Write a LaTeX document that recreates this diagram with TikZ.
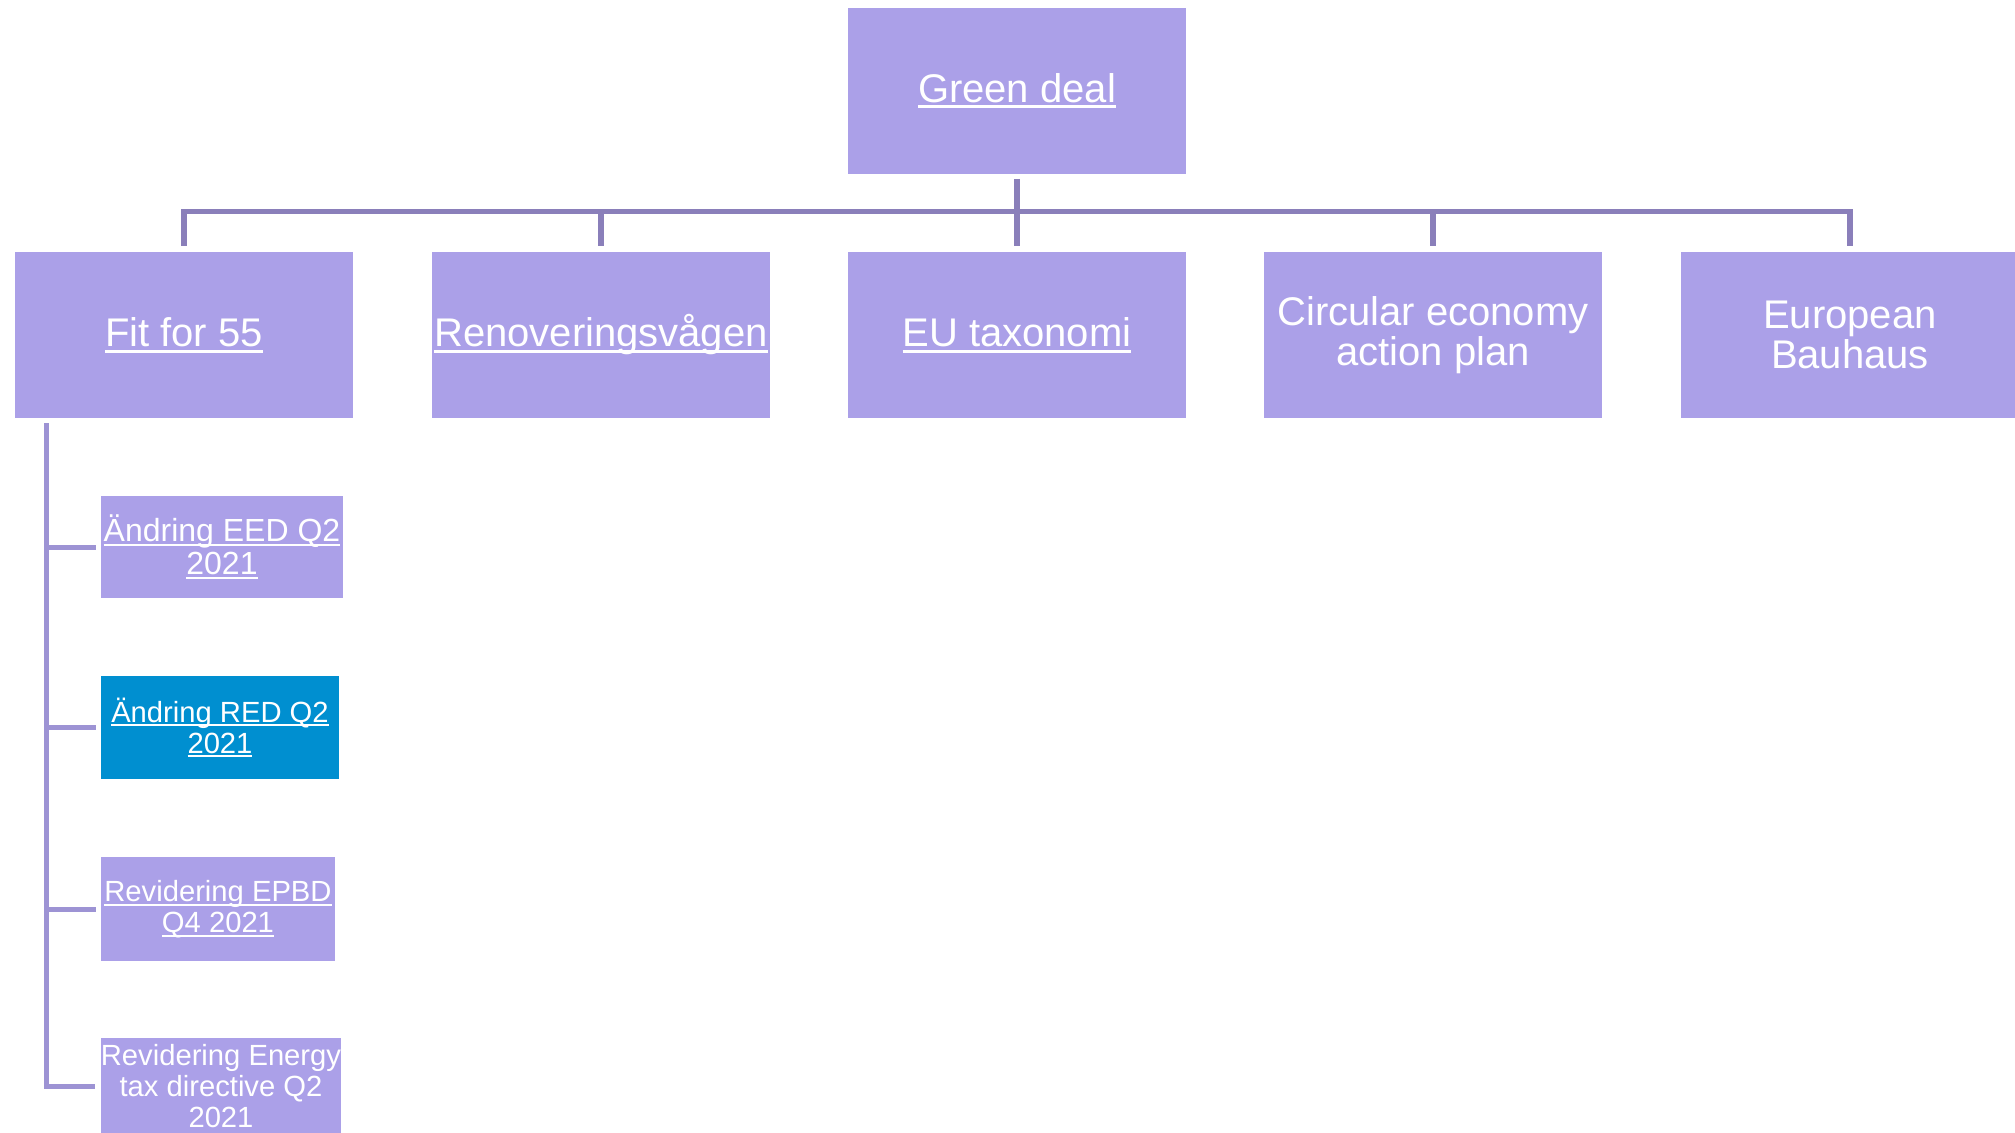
\documentclass[tikz,border=0pt]{standalone}
\usepackage{fontspec}
\setmainfont{Liberation Sans}
\usetikzlibrary{calc}
\definecolor{boxfill}{HTML}{ABA0E8}
\definecolor{bluefill}{HTML}{008FD0}
\definecolor{linedark}{HTML}{8A7FBA}
\definecolor{linelight}{HTML}{9D93D4}
\newcommand\ulin[1]{\setbox0\hbox{#1}\rlap{\rule[-0.15em]{\wd0}{0.07em}}\box0}
\begin{document}
\begin{tikzpicture}[x=0.5pt,y=-0.5pt,
  box/.style={fill=boxfill, draw=none, text=white, align=center, inner sep=0pt,
    minimum width=169pt, minimum height=83pt, font=\fontsize{20}{20}\selectfont},
  kid/.style={fill=boxfill, draw=none, text=white, align=center, inner sep=0pt,
    font=\fontsize{14.6}{15.5}\selectfont},
  topline/.style={draw=linedark, line width=2.8pt},
  sideline/.style={draw=linelight, line width=2.5pt}]
\clip (0,0) rectangle (2015,1132);
\fill[white] (0,0) rectangle (2015,1132);
% top
\node[box] (gd) at (1017,90.5) {\ulin{Green deal}};
% level 2
\node[box] (f55) at (184,335) {\ulin{Fit for 55}};
\node[box] (ren) at (601,335) {\ulin{Renoveringsvågen}};
\node[box] (eu) at (1017,335) {\ulin{EU taxonomi}};
\node[box] (ce) at (1433,335) {Circular economy\\action plan};
\node[box] (eb) at (1850,335) {European\\Bauhaus};
% children
\node[kid, minimum width=121pt, minimum height=51pt, font=\fontsize{16}{16.5}\selectfont] (c1) at (222,547) {\ulin{Ändring EED Q2}\\\ulin{2021}};
\node[kid, fill=bluefill, minimum width=119pt, minimum height=51.5pt] (c2) at (220,727.5) {\ulin{Ändring RED Q2}\\\ulin{2021}};
\node[kid, minimum width=117pt, minimum height=52pt] (c3) at (218,909) {\ulin{Revidering EPBD}\\\ulin{Q4 2021}};
\node[kid, minimum width=120pt, minimum height=48pt] (c4) at (221,1086) {Revidering Energy\\tax directive Q2\\2021};
% connectors top
\draw[topline] ([yshift=-2.5pt]gd.south) -- ([yshift=3pt]eu.north);
\draw[topline] ([yshift=3pt]f55.north) -- ++(0pt,17pt) -| ([yshift=3pt]eb.north);
\draw[topline] ([yshift=3pt]ren.north) -- ++(0pt,17pt);
\draw[topline] ([yshift=3pt]ce.north) -- ++(0pt,17pt);
% connectors side
\coordinate (st) at ([xshift=16pt,yshift=-2.5pt]f55.south west);
\draw[sideline] (st) |- ([xshift=-2.5pt]c4.west);
\draw[sideline] (st |- c1.west) -- ([xshift=-2.5pt]c1.west);
\draw[sideline] (st |- c2.west) -- ([xshift=-2.5pt]c2.west);
\draw[sideline] (st |- c3.west) -- ([xshift=-2.5pt]c3.west);
\end{tikzpicture}
\end{document}
